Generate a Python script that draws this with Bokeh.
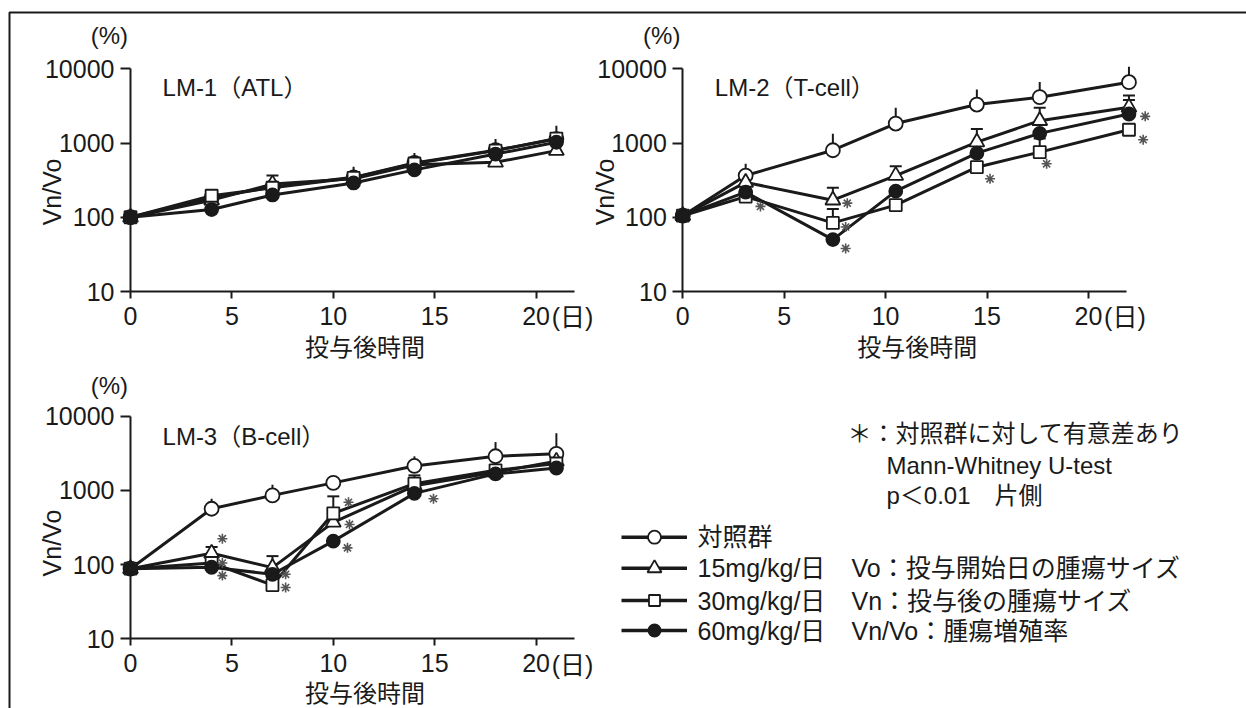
import numpy as np
from bokeh.plotting import figure
from bokeh.models import (Range1d, FixedTicker, PrintfTickFormatter, Label,
                          LinearAxis, LogAxis, LogScale)
from bokeh.core.properties import value
from bokeh.embed import file_html
from bokeh.resources import INLINE

# ---------------- data ----------------
# LM-1 (ATL)
days1 = [0, 4, 7, 11, 14, 18, 21]
ctrl1 = [100, 185, 255, 345, 540, 800, 1130]
ctrl1_err = [None, None, None, 480, 735, 1135, 1710]
t15_1 = [100, 170, 280, 330, 510, 550, 790]
t15_1_err = [None, None, 365, None, None, None, None]
s30_1 = [100, 195, 250, 340, 530, 790, 1150]
s30_1_err = [None] * 7
f60_1 = [100, 127, 200, 290, 435, 710, 1025]
f60_1_err = [None] * 7
ast1_x = []
ast1_y = []

# LM-2 (T-cell)
days2 = [0, 3.1, 7.4, 10.5, 14.5, 17.6, 22]
ctrl2 = [105, 365, 800, 1830, 3300, 4150, 6600]
ctrl2_err = [None, 525, 1330, 2990, 5260, 6620, 10700]
t15_2 = [105, 295, 170, 365, 1030, 2000, 3030]
t15_2_err = [None, None, 250, 485, 1550, 2990, 4380]
s30_2 = [105, 190, 84, 146, 473, 755, 1510]
s30_2_err = [None, None, 129, None, None, 1150, None]
f60_2 = [105, 218, 50, 225, 730, 1350, 2460]
f60_2_err = [None, None, None, None, None, None, 3800]
ast2_x = [3.83, 8.11, 8.03, 8.03, 15.15, 17.94, 22.8, 22.7]
ast2_y = [140, 155, 74, 38, 330, 525, 2290, 1110]

# LM-3 (B-cell)
days3 = [0, 4, 7, 10, 14, 18, 21]
ctrl3 = [88, 565, 855, 1260, 2130, 2880, 3100]
ctrl3_err = [None, 770, 1190, None, 2870, 4470, 5880]
t15_3 = [88, 142, 91, 370, 1150, 1750, 2460]
t15_3_err = [None, 172, 130, None, None, None, None]
s30_3 = [88, 105, 53, 490, 1230, 1860, 2300]
s30_3_err = [None, None, None, 830, 1590, 2180, None]
f60_3 = [88, 92, 74, 207, 910, 1665, 2000]
f60_3_err = [None] * 7
ast3_x = [4.53, 4.53, 4.53, 7.65, 7.65, 10.75, 10.8, 10.7, 14.94]
ast3_y = [223, 105, 71, 74, 49, 690, 347, 168, 770]

x_ticks = [0, 5, 10, 15, 20]
y_ticks = [10, 100, 1000, 10000]
titles = ["LM-1（ATL）", "LM-2（T-cell）", "LM-3（B-cell）"]
y_label = "Vn/Vo"
x_label = "投与後時間"
legend_labels = ["対照群", "15mg/kg/日", "30mg/kg/日", "60mg/kg/日"]
legend_notes = ["Vo：投与開始日の腫瘍サイズ", "Vn：投与後の腫瘍サイズ", "Vn/Vo：腫瘍増殖率"]
sig_notes = ["＊：対照群に対して有意差あり", "Mann-Whitney U-test", "p＜0.01　片側"]

# ---------------- style / geometry ----------------
FONT = "Liberation Sans, Noto Sans CJK JP"
INK = "#1a1a1a"
GRAY = "#555555"
W, H = 1246, 708
K = 20.28   # px per day
D = 74.23   # px per decade

STYLES = [  # marker, fill, size, caps
    ("circle", "white", 14, False),
    ("triangle", "white", 15, True),
    ("square", "white", 12, True),
    ("circle", INK, 13, True),
]

# panel origins in the page: (name, px of day 0, px of value 10)
PANELS = [("a", 130, 291), ("b", 682.3, 291), ("c", 130, 638.3)]

extra_x = {}
extra_y = {}
extra_ys = {}
for name, x0, y10 in PANELS:
    extra_x[name + "x"] = Range1d(-x0 / K, (W - x0) / K)
    extra_y[name + "y"] = Range1d(10 ** (1 - (H - y10) / D), 10 ** (1 + y10 / D))
    extra_ys[name + "y"] = LogScale()

p = figure(width=W, height=H, output_backend="svg", toolbar_location=None,
           min_border=0, x_range=Range1d(0, W), y_range=Range1d(H, 0),
           x_axis_location=None, y_axis_location=None,
           extra_x_ranges=extra_x, extra_y_ranges=extra_y, extra_y_scales=extra_ys)
p.outline_line_color = None
p.grid.visible = False
p.background_fill_color = "white"
p.border_fill_color = "white"


def style_axis(ax):
    ax.axis_line_width = 2
    ax.axis_line_color = INK
    ax.major_tick_line_width = 2
    ax.major_tick_line_color = INK
    ax.minor_tick_line_color = None
    ax.major_tick_in = 0
    ax.major_label_text_font = FONT
    ax.major_label_text_font_size = "25px"
    ax.major_label_text_color = INK


def add_text(x, y, text, rn, size="25px", align="center", angle=0.0):
    p.add_layout(Label(x=x, y=y, text=text, text_font=FONT, text_font_size=size,
                       text_color=INK, text_align=align, text_baseline="middle",
                       angle=angle, x_range_name=rn + "x", y_range_name=rn + "y"))


def panel(rn, days, series, errs, ast_x, ast_y, title, ylab_y, pct_y, title_y, xlab_y):
    kw = dict(x_range_name=rn + "x", y_range_name=rn + "y")
    xa = LinearAxis(fixed_location=10, bounds=(0, 21.9),
                    ticker=FixedTicker(ticks=x_ticks), **kw)
    ya = LogAxis(fixed_location=0, bounds=(10, 10000),
                 ticker=FixedTicker(ticks=y_ticks),
                 formatter=PrintfTickFormatter(format="%d"), **kw)
    style_axis(xa)
    style_axis(ya)
    xa.major_tick_out = 7
    xa.major_label_standoff = 8
    ya.major_tick_out = 10
    ya.major_label_standoff = 6
    p.add_layout(xa, "below")
    p.add_layout(ya, "left")

    # error bars
    for (marker, fill, size, caps), vals, err in zip(STYLES, series, errs):
        ex = [d for d, e in zip(days, err) if e is not None]
        ey0 = [v for v, e in zip(vals, err) if e is not None]
        ey1 = [e for e in err if e is not None]
        if ex:
            p.segment(ex, ey0, ex, ey1, line_color=INK, line_width=2, **kw)
            if caps:
                p.scatter(ex, ey1, marker="dash", size=12, line_color=INK, line_width=2, **kw)
    for vals in series:
        p.line(days, vals, line_color=INK, line_width=3, **kw)
    for (marker, fill, size, caps), vals in zip(STYLES, series):
        p.scatter(days, vals, marker=marker, size=size, fill_color=fill,
                  line_color=INK, line_width=1.8, **kw)
    if ast_x:
        p.scatter(ast_x, ast_y, marker="asterisk", size=10, line_color=GRAY,
                  line_width=1.6, **kw)

    add_text(1.58, title_y, title, rn, size="24px", align="left")
    add_text(-3.85, ylab_y, y_label, rn, angle=np.pi / 2)
    add_text(-1.04, pct_y, "(%)", rn, size="24px")
    add_text(11.56, xlab_y, x_label, rn, size="24px")
    add_text(21.8, 4.5, "(日)", rn)


panel("a", days1, [ctrl1, t15_1, s30_1, f60_1],
      [ctrl1_err, t15_1_err, s30_1_err, f60_1_err], ast1_x, ast1_y,
      titles[0], 219, 28100, 5600, 1.78)
panel("b", days2, [ctrl2, t15_2, s30_2, f60_2],
      [ctrl2_err, t15_2_err, s30_2_err, f60_2_err], ast2_x, ast2_y,
      titles[1], 219, 28100, 5600, 1.78)
panel("c", days3, [ctrl3, t15_3, s30_3, f60_3],
      [ctrl3_err, t15_3_err, s30_3_err, f60_3_err], ast3_x, ast3_y,
      titles[2], 195, 25700, 5370, 1.86)

# outer frame (top and left edges), page pixel coordinates
p.line([9, 9, W], [H, 12, 12], line_color=INK, line_width=2)

# significance note
p.text([847, 886, 886], [433, 465, 495], text=sig_notes, text_font=value(FONT),
       text_font_size="24px", text_color=INK, text_baseline="middle", text_align="left")

# legend
row_y = [536.7, 567.7, 600, 630]
p.segment([621] * 4, row_y, [686.5] * 4, row_y, line_color=INK, line_width=3.5)
for (marker, fill, size, caps), yy in zip(STYLES, row_y):
    p.scatter([654], [yy], marker=marker, size=size - 1, fill_color=fill,
              line_color=INK, line_width=1.8)
p.text([697] * 4, row_y, text=legend_labels, text_font=value(FONT), text_font_size="25px",
       text_color=INK, text_baseline="middle", text_align="left")
p.text([851] * 3, row_y[1:], text=legend_notes, text_font=value(FONT), text_font_size="25px",
       text_color=INK, text_baseline="middle", text_align="left")

open("out.html", "w").write(file_html(p, INLINE))
